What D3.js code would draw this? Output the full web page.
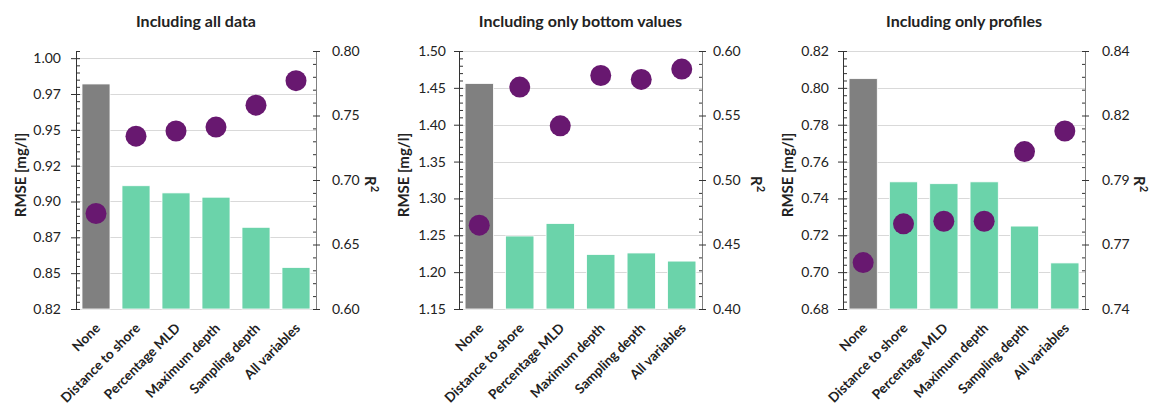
<!DOCTYPE html>
<html>
<head>
<meta charset="utf-8">
<script src="https://cdn.jsdelivr.net/npm/d3@7"></script>
<style>
  body { margin: 0; background: #fff; }
  #chart { width: 1151px; height: 405px; }
  text { font-family: Lato, "Open Sans", sans-serif; fill: #222; }
  .title { font-size: 16px; font-weight: bold; }
  .axisLabel { font-size: 15px; font-weight: bold; }
  .catLabel { font-size: 13.5px; font-weight: bold; }
</style>
</head>
<body>
<div id="chart"></div>
<script>
  var width = 1151;
  var height = 405;
  var svg = d3.select("#chart")
      .append("svg")
      .attr("width", width)
      .attr("height", height);

  // data
  var categories = ["None", "Distance to shore", "Percentage MLD", "Maximum depth", "Sampling depth", "All variables"];

  var rmseAll = [0.977, 0.906, 0.901, 0.898, 0.877, 0.849];
  var r2All = [0.674, 0.734, 0.738, 0.741, 0.758, 0.777];

  var rmseBottom = [1.456, 1.249, 1.266, 1.224, 1.226, 1.215];
  var r2Bottom = [0.465, 0.572, 0.542, 0.581, 0.578, 0.586];

  var rmseProfiles = [0.805, 0.749, 0.748, 0.749, 0.725, 0.705];
  var r2Profiles = [0.758, 0.773, 0.774, 0.774, 0.801, 0.809];

  // tick values and labels (as printed)
  var leftTicksAll = [0.82, 0.845, 0.87, 0.895, 0.92, 0.945, 0.97, 0.995];
  var leftLabelsAll = ["0.82", "0.85", "0.87", "0.90", "0.92", "0.95", "0.97", "1.00"];
  var rightTicksAll = [0.60, 0.65, 0.70, 0.75, 0.80];
  var rightLabelsAll = ["0.60", "0.65", "0.70", "0.75", "0.80"];

  var leftTicksBottom = [1.15, 1.20, 1.25, 1.30, 1.35, 1.40, 1.45, 1.50];
  var leftLabelsBottom = ["1.15", "1.20", "1.25", "1.30", "1.35", "1.40", "1.45", "1.50"];
  var rightTicksBottom = [0.40, 0.45, 0.50, 0.55, 0.60];
  var rightLabelsBottom = ["0.40", "0.45", "0.50", "0.55", "0.60"];

  var leftTicksProfiles = [0.68, 0.70, 0.72, 0.74, 0.76, 0.78, 0.80, 0.82];
  var leftLabelsProfiles = ["0.68", "0.70", "0.72", "0.74", "0.76", "0.78", "0.80", "0.82"];
  var rightTicksProfiles = [0.74, 0.765, 0.79, 0.815, 0.84];
  var rightLabelsProfiles = ["0.74", "0.77", "0.79", "0.82", "0.84"];

  var plotTop = 51, plotBottom = 309;

  var panels = [
    {title: "Including all data", rmse: rmseAll, r2: r2All,
     left: [0.82, 1.0], lMinor: 0.005, lTicks: leftTicksAll, lLabels: leftLabelsAll,
     right: [0.60, 0.80], rMinor: 0.01, rTicks: rightTicksAll, rLabels: rightLabelsAll,
     x0: 76, x1: 316, lPad: 10, rPad: 12},
    {title: "Including only bottom values", rmse: rmseBottom, r2: r2Bottom,
     left: [1.15, 1.50], lMinor: 0.01, lTicks: leftTicksBottom, lLabels: leftLabelsBottom,
     right: [0.40, 0.60], rMinor: 0.01, rTicks: rightTicksBottom, rLabels: rightLabelsBottom,
     x0: 459, x1: 702, lPad: 8, rPad: 7},
    {title: "Including only profiles", rmse: rmseProfiles, r2: r2Profiles,
     left: [0.68, 0.82], lMinor: 0.004, lTicks: leftTicksProfiles, lLabels: leftLabelsProfiles,
     right: [0.74, 0.84], rMinor: 0.005, rTicks: rightTicksProfiles, rLabels: rightLabelsProfiles,
     x0: 843, x1: 1085, lPad: 9, rPad: 13}
  ];

  panels.forEach(function(p) {
    var g = svg.append("g");

    var xScale = d3.scaleBand()
      .domain(categories)
      .range([p.x0, p.x1])
      .paddingInner(0.3)
      .paddingOuter(0.15);

    var yLeft = d3.scaleLinear().domain(p.left).range([plotBottom, plotTop]);
    var yRight = d3.scaleLinear().domain(p.right).range([plotBottom, plotTop]);

    // gridlines at the primary major ticks
    g.selectAll(".grid")
      .data(p.lTicks)
      .enter()
      .append("line")
        .attr("x1", p.x0)
        .attr("x2", p.x1)
        .attr("y1", function(d) { return Math.round(yLeft(d)) + 0.5; })
        .attr("y2", function(d) { return Math.round(yLeft(d)) + 0.5; })
        .attr("stroke", "#d9d9d9")
        .attr("stroke-width", 1);

    // bars
    g.selectAll(".bar")
      .data(p.rmse)
      .enter()
      .append("rect")
        .attr("x", function(d, i) { return xScale(categories[i]); })
        .attr("y", function(d) { return yLeft(d); })
        .attr("width", xScale.bandwidth())
        .attr("height", function(d) { return plotBottom - yLeft(d); })
        .attr("fill", function(d, i) { return i === 0 ? "#808080" : "#6bd3aa"; })
        .attr("stroke", "#ffffff")
        .attr("stroke-width", 0.8);

    // left axis: labels + outer ticks, then inner minor ticks
    var lMinorVals = d3.range(p.left[0], p.left[1] + p.lMinor / 2, p.lMinor);
    g.append("g")
      .attr("transform", `translate(${p.x0},0)`)
      .call(d3.axisLeft(yLeft).tickValues(p.lTicks).tickSizeInner(5).tickSizeOuter(0).tickPadding(p.lPad)
        .tickFormat(function(d, i) { return p.lLabels[i]; }))
      .call(function(a) { a.select(".domain").attr("stroke", "#333"); a.selectAll(".tick line").attr("stroke", "#333"); });
    g.append("g")
      .attr("transform", `translate(${p.x0},0)`)
      .call(d3.axisRight(yLeft).tickValues(lMinorVals).tickSizeInner(4).tickSizeOuter(0).tickFormat(""))
      .call(function(a) { a.select(".domain").remove(); a.selectAll(".tick line").attr("stroke", "#333"); });

    // right axis
    var rMinorVals = d3.range(p.right[0], p.right[1] + p.rMinor / 2, p.rMinor);
    g.append("g")
      .attr("transform", `translate(${p.x1},0)`)
      .call(d3.axisRight(yRight).tickValues(p.rTicks).tickSizeInner(4).tickSizeOuter(0).tickPadding(p.rPad)
        .tickFormat(function(d, i) { return p.rLabels[i]; }))
      .call(function(a) { a.select(".domain").attr("stroke", "#808080"); a.selectAll(".tick line").attr("stroke", "#333"); });
    g.append("g")
      .attr("transform", `translate(${p.x1},0)`)
      .call(d3.axisLeft(yRight).tickValues(rMinorVals).tickSizeInner(3).tickSizeOuter(0).tickFormat(""))
      .call(function(a) { a.select(".domain").remove(); a.selectAll(".tick line").attr("stroke", "#333"); });

    g.selectAll(".tick text")
      .attr("font-family", "Lato, 'Open Sans', sans-serif")
      .attr("font-size", 14)
      .attr("fill", "#222");

    // R2 dots
    g.selectAll(".dot")
      .data(p.r2)
      .enter()
      .append("circle")
        .attr("cx", function(d, i) { return xScale(categories[i]) + xScale.bandwidth() / 2; })
        .attr("cy", function(d) { return yRight(d); })
        .attr("r", 10.5)
        .attr("fill", "#681870");

    // category labels
    g.selectAll(".catLabel")
      .data(categories)
      .enter()
      .append("text")
        .attr("class", "catLabel")
        .attr("text-anchor", "end")
        .attr("transform", function(d) {
          var cx = xScale(d) + xScale.bandwidth() / 2 + 5;
          return `translate(${cx},${plotBottom + 20}) rotate(-45)`;
        })
        .text(function(d) { return d; });

    // title
    g.append("text")
      .attr("class", "title")
      .attr("x", (p.x0 + p.x1) / 2)
      .attr("y", 27)
      .attr("text-anchor", "middle")
      .text(p.title);

    // axis titles
    g.append("text")
      .attr("class", "axisLabel")
      .attr("transform", `translate(${p.x0 - 50},${(plotTop + plotBottom) / 2 - 5}) rotate(-90)`)
      .attr("text-anchor", "middle")
      .text("RMSE [mg/l]");

    var r2Label = g.append("text")
      .attr("class", "axisLabel")
      .attr("transform", `translate(${p.x1 + 49},${(plotTop + plotBottom) / 2 + 4}) rotate(90)`)
      .attr("text-anchor", "middle");
    r2Label.append("tspan").text("R");
    r2Label.append("tspan").attr("dy", "-6").style("font-size", "11px").text("2");
  });
</script>
</body>
</html>
